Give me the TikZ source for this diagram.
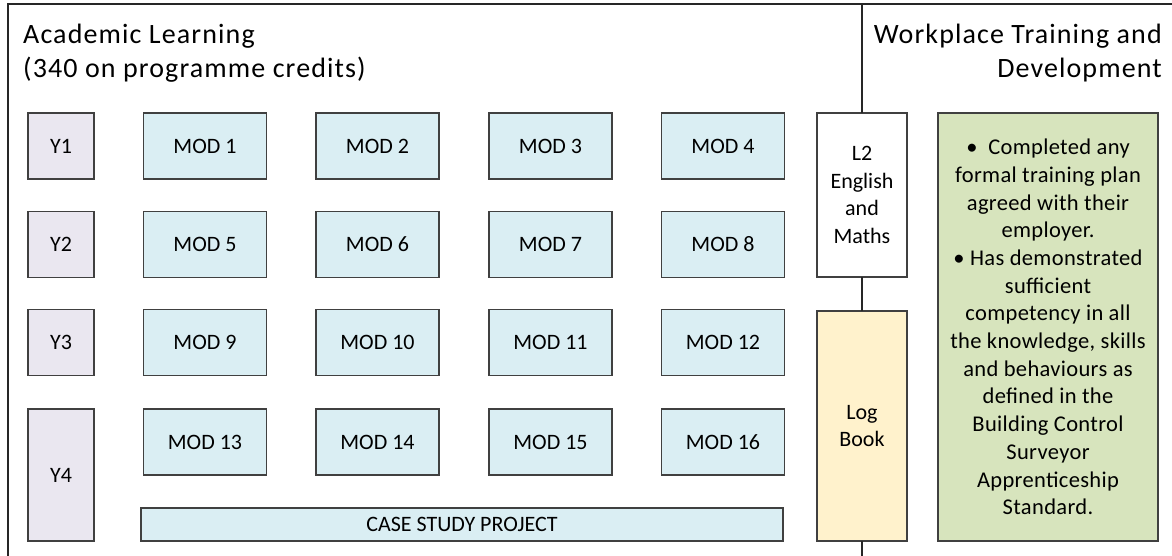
\documentclass[tikz,border=0pt]{standalone}
\usepackage{fontspec}
\setmainfont{Carlito}
\definecolor{ylav}{HTML}{EAE7F0}
\definecolor{modblue}{HTML}{DAEEF3}
\definecolor{logyellow}{HTML}{FFF2CC}
\definecolor{greenbox}{HTML}{D7E4BD}
\definecolor{boxline}{HTML}{404040}
\definecolor{frameline}{HTML}{262626}
\begin{document}
\begin{tikzpicture}[x=1pt,y=-1pt,
  box/.style={draw=boxline, line width=1.2pt, rectangle, inner sep=0pt, outer sep=0pt,
    align=center, font=\fontsize{22}{27.5}\selectfont},
  yearbox/.style={box, fill=ylav, minimum width=66pt, minimum height=66pt},
  modbox/.style={box, fill=modblue, minimum width=123pt, minimum height=66pt},
  title/.style={inner sep=0pt, font=\fontsize{28}{33.5}\selectfont\addfontfeatures{LetterSpace=4}},
  frame/.style={draw=frameline, line width=1.6pt},
  divider/.style={draw=frameline, line width=1.4pt}]
\useasboundingbox (0,0) rectangle (1172,556);
\fill[white] (0,0) rectangle (1172,556);
% outer frame
\draw[frame] (8,560) -- (8,4) -- (1176,4);
% titles
\node[title, anchor=north west, align=left] (acad) at (23,24) {Academic Learning\\(340 on programme credits)};
\node[title, anchor=north east, align=right] (work) at (1162,24) {Workplace Training and\\Development};
% year boxes
\node[yearbox] (y1) at (61,146) {Y1};
\node[yearbox] (y2) at (61,244.5) {Y2};
\node[yearbox] (y3) at (61,342.5) {Y3};
\node[yearbox, minimum height=132pt] (y4) at (61,475) {Y4};
% modules
\node[modbox] (m1) at (205,146) {MOD 1};
\node[modbox] (m2) at (377.5,146) {MOD 2};
\node[modbox] (m3) at (550.5,146) {MOD 3};
\node[modbox] (m4) at (723,146) {MOD 4};
\node[modbox] (m5) at (205,244.5) {MOD 5};
\node[modbox] (m6) at (377.5,244.5) {MOD 6};
\node[modbox] (m7) at (550.5,244.5) {MOD 7};
\node[modbox] (m8) at (723,244.5) {MOD 8};
\node[modbox] (m9) at (205,342.5) {MOD 9};
\node[modbox] (m10) at (377.5,342.5) {MOD 10};
\node[modbox] (m11) at (550.5,342.5) {MOD 11};
\node[modbox] (m12) at (723,342.5) {MOD 12};
\node[modbox] (m13) at (205,442) {MOD 13};
\node[modbox] (m14) at (377.5,442) {MOD 14};
\node[modbox] (m15) at (550.5,442) {MOD 15};
\node[modbox] (m16) at (723,442) {MOD 16};
\node[box, fill=modblue, minimum width=642pt, minimum height=33pt, font=\fontsize{22}{26}\selectfont] (case) at (462,524.5) {CASE STUDY PROJECT};
% right column
\coordinate (dtop) at (862,4);
\coordinate (dbot) at (862,560);
\node[box, fill=white, minimum width=90pt, minimum height=164pt] (l2) at (862,195) {L2\\English\\and\\Maths};
\node[box, fill=logyellow, minimum width=90pt, minimum height=230pt] (log) at (862,426) {Log\\Book};
\draw[divider] (dtop) -- (l2.north);
\draw[divider] (l2.south) -- (log.north);
\draw[divider] (log.south) -- (dbot);
\node[box, fill=greenbox, minimum width=220pt, minimum height=428pt, font=\fontsize{22.5}{27.7}\selectfont\addfontfeatures{LetterSpace=1.5}] (green) at (1048,327)
 {•~~Completed any\\formal training plan\\agreed with their\\employer.\\•~Has demonstrated\\sufficient\\competency in all\\the knowledge, skills\\and behaviours as\\defined in the\\Building Control\\Surveyor\\Apprenticeship\\Standard.};
\end{tikzpicture}
\end{document}
